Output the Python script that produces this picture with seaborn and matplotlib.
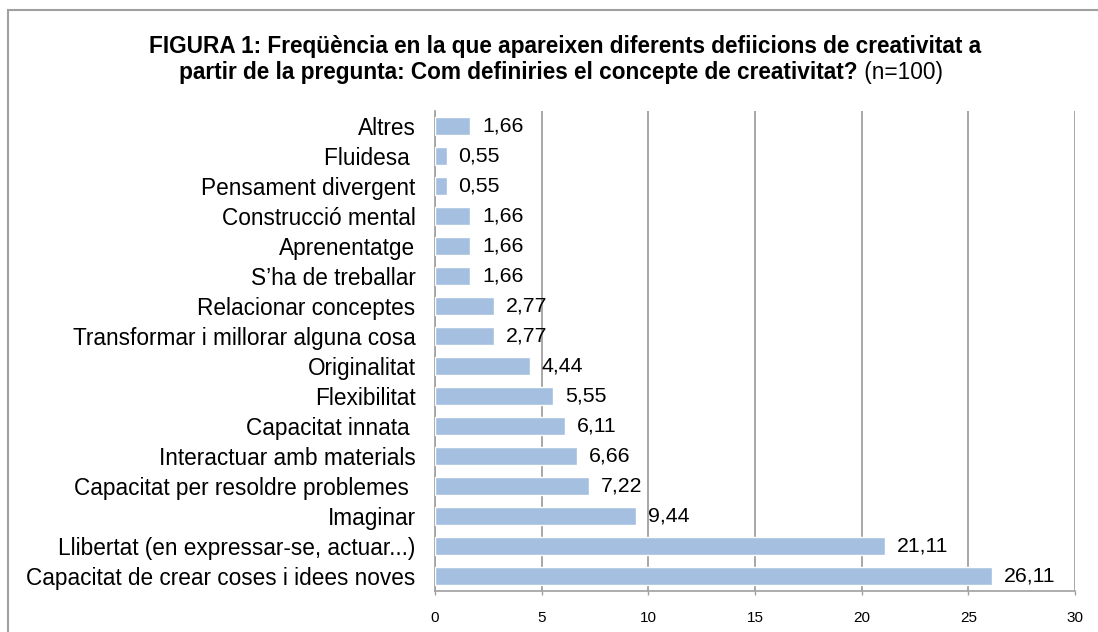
import matplotlib
matplotlib.use("Agg")
import matplotlib.pyplot as plt
import pandas as pd
import seaborn as sns

# ─── Data ─────────────────────────────────────────────────────────────────────
categories = [
    "Altres",
    "Fluidesa ",
    "Pensament divergent",
    "Construcció mental",
    "Aprenentatge",
    "S\u2019ha de treballar",
    "Relacionar conceptes",
    "Transformar i millorar alguna cosa",
    "Originalitat",
    "Flexibilitat",
    "Capacitat innata ",
    "Interactuar amb materials",
    "Capacitat per resoldre problemes ",
    "Imaginar",
    "Llibertat (en expressar-se, actuar...)",
    "Capacitat de crear coses i idees noves",
]
values = [1.66, 0.55, 0.55, 1.66, 1.66, 1.66, 2.77, 2.77,
          4.44, 5.55, 6.11, 6.66, 7.22, 9.44, 21.11, 26.11]
x_ticks = [0, 5, 10, 15, 20, 25, 30]

title_1 = "FIGURA 1: Freqüència en la que apareixen diferents defiicions de creativitat a"
title_2 = "partir de la pregunta: Com definiries el concepte de creativitat?"
title_n = "(n=100)"

df = pd.DataFrame({"categoria": categories, "valor": values})

# ─── Plot ─────────────────────────────────────────────────────────────────────
sns.set_style("white")
plt.rcParams["font.family"] = ["Liberation Sans", "DejaVu Sans"]
plt.rcParams["text.color"] = "black"

W, H = 1098, 632
fig = plt.figure(figsize=(W / 100, H / 100), dpi=100)
ax = fig.add_axes([435 / W, 1 - 591 / H, (1075 - 435) / W, (591 - 111) / H])

sns.barplot(data=df, x="valor", y="categoria", color="#A4BFE0",
            width=0.57, saturation=1, ax=ax, zorder=3)

ax.set_xlim(0, 30)
ax.set_xticks(x_ticks)
ax.set_xticklabels([str(t) for t in x_ticks], fontsize=11)
ax.set_ylim(len(categories) - 0.5, -0.5)
ax.set_xlabel("")
ax.set_ylabel("")
ax.tick_params(axis="y", labelsize=16.3, length=0, pad=14, labelcolor="black")
ax.tick_params(axis="x", length=3, width=1, color="#A0A0A0", pad=11.5,
               direction="out", bottom=True, labelcolor="black")

ax.grid(axis="x", color="#A0A0A0", lw=1.3, zorder=0)
ax.grid(axis="y", visible=False)
for side in ["left", "bottom"]:
    ax.spines[side].set_color("#A0A0A0")
    ax.spines[side].set_linewidth(1.2)
for side in ["top", "right"]:
    ax.spines[side].set_visible(False)

# value labels
for i, v in enumerate(values):
    ax.text(v + 0.55, i, f"{v:.2f}".replace(".", ","), va="center", ha="left",
            fontsize=15.3, zorder=4)

# title (second line: bold part + regular "(n=100)", centred together)
fig.text(565 / W, 1 - 46 / H, title_1, ha="center", va="center",
         fontsize=16.3, fontweight="bold")
renderer = fig.canvas.get_renderer()
t2 = fig.text(0, 1 - 73 / H, title_2, ha="left", va="center",
              fontsize=16.3, fontweight="bold")
tn = fig.text(0, 1 - 73 / H, " " + title_n, ha="left", va="center", fontsize=16.3)
w2 = t2.get_window_extent(renderer).width
wn = tn.get_window_extent(renderer).width
x0 = 561 - (w2 + wn) / 2
t2.set_x(x0 / W)
tn.set_x((x0 + w2) / W)

# outer frame
fig.patches.append(plt.Rectangle((8 / W, -0.05), 1.1, 1.05 - 10 / H,
                                 transform=fig.transFigure, fill=False,
                                 edgecolor="#A0A0A0", lw=1.5))

fig.savefig("out.png", dpi=100)
